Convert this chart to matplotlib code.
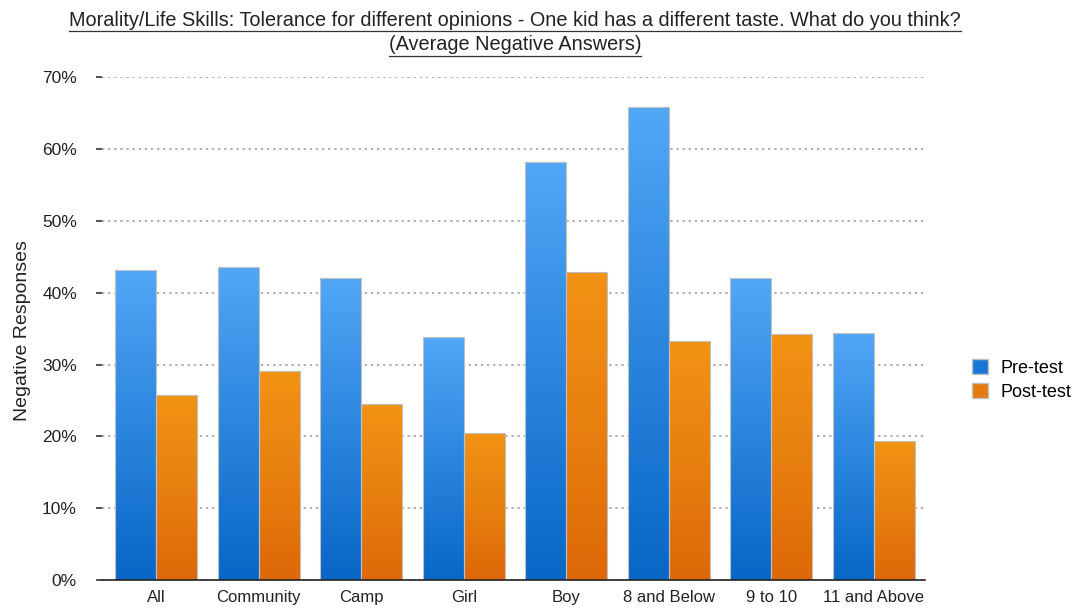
import numpy as np
import matplotlib
matplotlib.use("Agg")
import matplotlib.pyplot as plt
from matplotlib.colors import LinearSegmentedColormap
from matplotlib.patches import Patch
from matplotlib.lines import Line2D

categories = ["All", "Community", "Camp", "Girl", "Boy", "8 and Below", "9 to 10", "11 and Above"]
pre_test = [43.2, 43.6, 42.1, 33.9, 58.2, 65.8, 42.1, 34.4]
post_test = [25.7, 29.1, 24.5, 20.4, 42.9, 33.3, 34.3, 19.4]
y_ticks = [0, 10, 20, 30, 40, 50, 60, 70]

title_lines = ["Morality/Life Skills: Tolerance for different opinions - One kid has a different taste. What do you think?",
               "(Average Negative Answers)"]

plt.rcParams["font.family"] = ["Liberation Sans", "DejaVu Sans"]

fig = plt.figure(figsize=(10.8, 6.08), dpi=100)
ax = fig.add_axes([0.0944, 0.046, 0.762, 0.827])

blue_cmap = LinearSegmentedColormap.from_list("blue", ["#0866c6", "#2b86de", "#52a7f7"])
orange_cmap = LinearSegmentedColormap.from_list("orange", ["#dd6808", "#e8800f", "#f29314"])

x = np.arange(len(categories))
w = 0.4
grad = np.linspace(0, 1, 256).reshape(-1, 1)

def gradient_bars(xs, vals, cmap):
    bars = ax.bar(xs, vals, width=w, color="none", edgecolor="#c0c0c0", linewidth=0.8, zorder=3)
    for b in bars:
        x0, y0 = b.get_x(), b.get_y()
        x1, y1 = x0 + b.get_width(), y0 + b.get_height()
        im = ax.imshow(grad, cmap=cmap, origin="lower", aspect="auto",
                       extent=[x0, x1, y0, y1], zorder=2, interpolation="bilinear")
        im.set_clip_path(b)
    return bars

gradient_bars(x - w / 2, pre_test, blue_cmap)
gradient_bars(x + w / 2, post_test, orange_cmap)

ax.set_xlim(-0.53, len(categories) - 0.5)
ax.set_ylim(0, 70)
ax.set_yticks(y_ticks)
ax.set_yticklabels([f"{t}%" for t in y_ticks], fontsize=12.5, color="#222222")
ax.set_xticks(x)
ax.set_xticklabels(categories, fontsize=12, color="#222222")
ax.tick_params(axis="x", length=0, pad=7.5)
ax.tick_params(axis="y", length=4, width=1.2, color="#333333", pad=14)
ax.yaxis.grid(True, linestyle=(0, (1.5, 2.5)), color="#999999", linewidth=1.1)
ax.set_axisbelow(True)
for s in ["top", "right", "left"]:
    ax.spines[s].set_visible(False)
ax.spines["bottom"].set_color("#222222")
ax.spines["bottom"].set_linewidth(1.2)
ax.spines["bottom"].set_zorder(4)

fig.text(0.021, 0.457, "Negative Responses", rotation=90, fontsize=14, color="#222222",
         ha="center", va="center")

# underlined two-line title
fig.canvas.draw()
renderer = fig.canvas.get_renderer()
for line, ypx in zip(title_lines, [20, 45]):
    t = fig.text(0.477, 1 - ypx / 608, line, fontsize=14.3, color="#222222",
                 ha="center", va="center")
    bb = t.get_window_extent(renderer=renderer)
    uy = (bb.y0 - 1) / fig.bbox.height
    fig.add_artist(Line2D([bb.x0 / fig.bbox.width, bb.x1 / fig.bbox.width], [uy, uy],
                          color="#333333", linewidth=0.9, transform=fig.transFigure))

handles = [Patch(facecolor="#1a76d6", edgecolor="#c0c0c0", label="Pre-test"),
           Patch(facecolor="#e67a10", edgecolor="#c0c0c0", label="Post-test")]
fig.legend(handles=handles, loc="center left", bbox_to_anchor=(0.885, 0.375), frameon=False,
           fontsize=13, handlelength=0.9, handleheight=0.9, handletextpad=0.7, labelspacing=0.35)

fig.savefig("out.png", dpi=100)
